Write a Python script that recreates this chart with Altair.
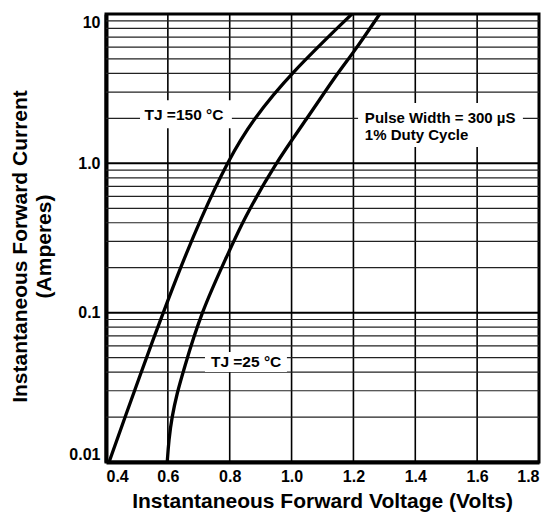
import altair as alt
import pandas as pd

# Curve data
v150 = [0.41, 0.467, 0.51, 0.55, 0.585, 0.64, 0.704, 0.795, 0.876, 0.997, 1.195]
i150 = [0.01, 0.0215, 0.038, 0.064, 0.1, 0.198, 0.417, 1.05, 1.98, 4.0, 10.0]
v25 = [0.598, 0.603, 0.613, 0.63, 0.649, 0.707, 0.795, 0.844, 0.946, 1.049, 1.146, 1.2, 1.285]
i25 = [0.01, 0.014, 0.02, 0.029, 0.04, 0.1, 0.249, 0.417, 0.99, 1.98, 3.96, 5.5, 10.0]

x_ticks = [0.4, 0.6, 0.8, 1.0, 1.2, 1.4, 1.6, 1.8]
x_grid = [0.6, 0.8, 1.0, 1.2, 1.4, 1.6]
y_ticks = [0.01, 0.1, 1.0, 10.0]
y_major = [0.1, 1.0]
y_minor = [0.02, 0.03, 0.04, 0.05, 0.06, 0.07, 0.08, 0.09,
           0.2, 0.3, 0.4, 0.5, 0.6, 0.7, 0.8, 0.9,
           2, 3, 4, 5, 6, 7, 8, 9]

# Annotations
ann_text = ["TJ =150 °C", "TJ =25 °C", "Pulse Width = 300 µS", "1% Duty Cycle"]
ann_x = [0.652, 0.853, 1.237, 1.237]
ann_y = [2.1, 0.0469, 2.01, 1.55]
ann_align = ["center", "center", "left", "left"]
box_x = [0.51, 0.72, 1.215]
box_x2 = [0.807, 0.985, 1.748]
box_y = [1.72, 0.04, 1.285]
box_y2 = [2.65, 0.0545, 2.54]

FONT = "Liberation Sans"

curves = pd.DataFrame({
    "V": v150 + v25,
    "I": i150 + i25,
    "T": ["150"] * len(v150) + ["25"] * len(v25),
})

xs = alt.Scale(domain=[0.4, 1.8], nice=False, zero=False)
ys = alt.Scale(type="log", domain=[0.01, 10], nice=False)

x_axis = alt.Axis(values=x_ticks, format=".1f", grid=False, ticks=False,
                  domainWidth=4, domainColor="black",
                  labelFont=FONT, labelFontSize=16, labelFontWeight="bold",
                  labelColor="black", labelPadding=6,
                  title="Instantaneous Forward Voltage (Volts)",
                  titleFont=FONT, titleFontSize=21, titleFontWeight="bold",
                  titleColor="black", titleBaseline="alphabetic",
                  titleX=216, titleY=45, titleAnchor="middle")
y_axis = alt.Axis(values=y_ticks, grid=False, ticks=False,
                  domainWidth=4, domainColor="black",
                  labelExpr="datum.value >= 10 ? '10' : datum.value >= 1 ? '1.0' : datum.value >= 0.1 ? '0.1' : '0.01'",
                  labelFont=FONT, labelFontSize=16, labelFontWeight="bold",
                  labelColor="black", labelPadding=6, labelFlush=True,
                  title=["Instantaneous Forward Current", "(Amperes)"],
                  titleFont=FONT, titleFontSize=21, titleFontWeight="bold",
                  titleColor="black", titleLineHeight=24, titleBaseline="middle",
                  titleX=-86, titleY=232, titleAngle=270)

vgrid = alt.Chart(pd.DataFrame({"V": x_grid})).mark_rule(color="black", strokeWidth=1.6).encode(
    x=alt.X("V:Q", scale=xs, axis=x_axis))
hminor = alt.Chart(pd.DataFrame({"I": y_minor})).mark_rule(color="#222", strokeWidth=1.2).encode(
    y=alt.Y("I:Q", scale=ys, axis=y_axis))
hmajor = alt.Chart(pd.DataFrame({"I": y_major})).mark_rule(color="black", strokeWidth=2).encode(
    y=alt.Y("I:Q", scale=ys))

lines = alt.Chart(curves).mark_line(color="black", strokeWidth=3.3, interpolate="basis", clip=True).encode(
    x=alt.X("V:Q", scale=xs),
    y=alt.Y("I:Q", scale=ys),
    detail="T:N",
)

boxes = alt.Chart(pd.DataFrame({"x": box_x, "x2": box_x2, "y": box_y, "y2": box_y2})).mark_rect(
    color="white", strokeWidth=0).encode(
    x=alt.X("x:Q", scale=xs), x2="x2:Q",
    y=alt.Y("y:Q", scale=ys), y2="y2:Q")

ann = pd.DataFrame({"t": ann_text, "x": ann_x, "y": ann_y, "a": ann_align})
txt_c = alt.Chart(ann[ann.a == "center"]).mark_text(
    font=FONT, fontSize=15.5, fontWeight="bold", color="black", align="center", baseline="middle").encode(
    x=alt.X("x:Q", scale=xs), y=alt.Y("y:Q", scale=ys), text="t:N")
txt_l = alt.Chart(ann[ann.a == "left"]).mark_text(
    font=FONT, fontSize=15, fontWeight="bold", color="black", align="left", baseline="middle").encode(
    x=alt.X("x:Q", scale=xs), y=alt.Y("y:Q", scale=ys), text="t:N")

chart = alt.layer(vgrid, hminor, hmajor, lines, boxes, txt_c, txt_l).properties(
    width=433, height=448,
    autosize=alt.AutoSizeParams(type="none"),
    padding={"left": 98, "top": 6, "right": 6, "bottom": 52},
    background="white",
).configure_view(stroke="black", strokeWidth=3)

chart.save("out.html", embed_options={"renderer": "svg", "actions": False})
